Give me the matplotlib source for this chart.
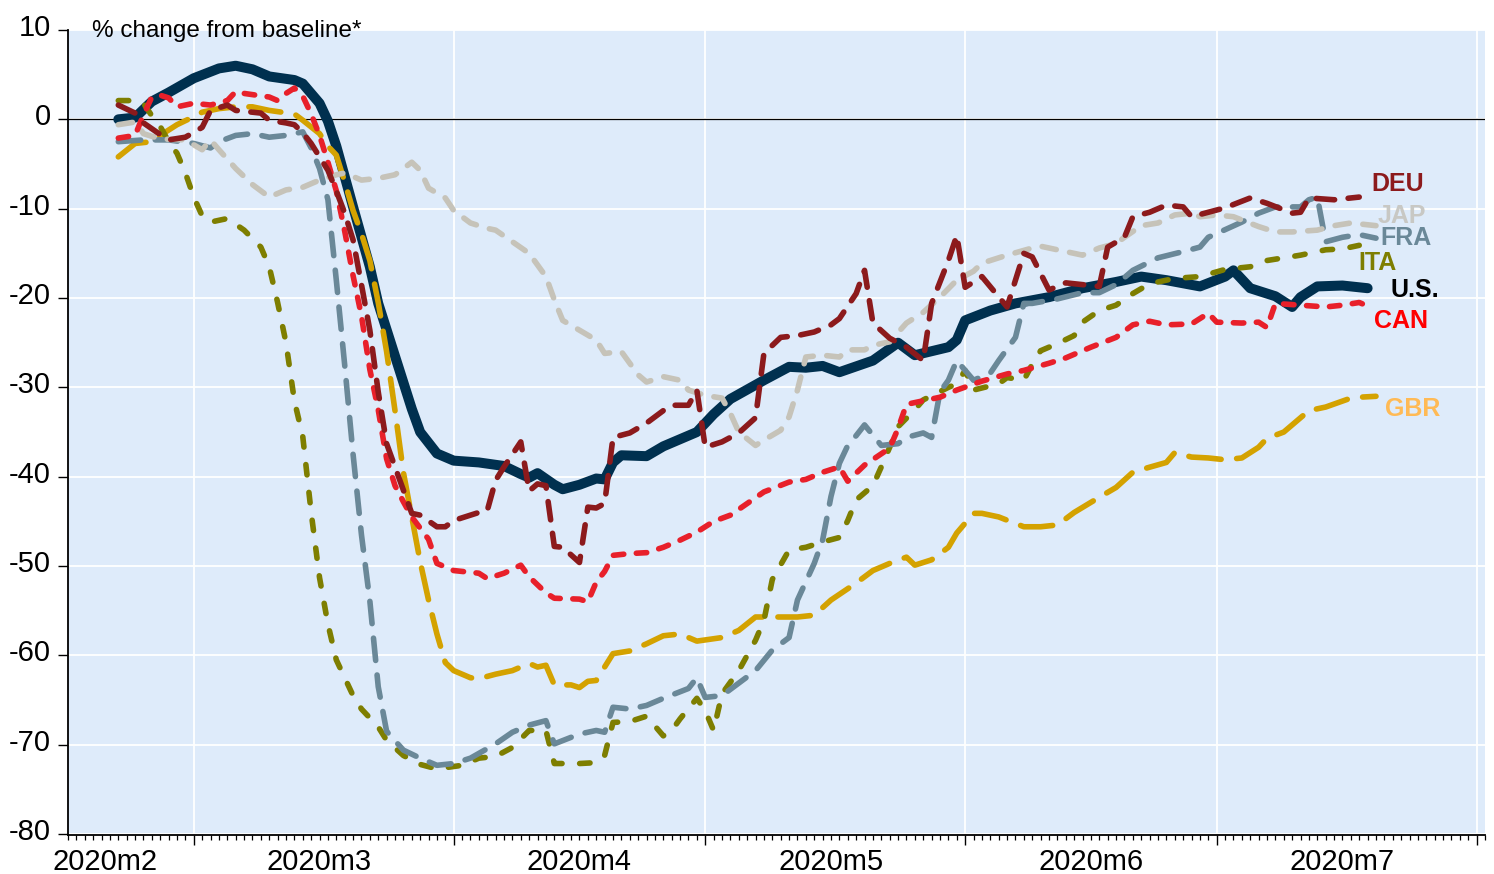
import numpy as np
import matplotlib
matplotlib.use("Agg")
import matplotlib.pyplot as plt
import matplotlib.dates as mdates
from matplotlib.transforms import ScaledTranslation, blended_transform_factory

plt.rcParams['font.family'] = ['Liberation Sans', 'DejaVu Sans']
plt.rcParams['axes.unicode_minus'] = False
plt.rcParams['lines.scale_dashes'] = False

# ---------------- data (day offsets from 2020-03-01, % change) ----------------
BASE = np.datetime64('2020-03-01')

us_days = [-9,-7,-5,-3,0,3,5,7,9,12,13,15,16,17,19,21,22,24,26,27,29,31,34,37,39,40,41,43,44,46,48,49,50,51,54,56,57,60,62,64,68,71,73,75,77,81,84,86,90,91,92,95,98,102,106,110,113,116,120,123,124,126,129,131,132,134,137,140]
us_vals = [0.0,0.2,2.0,3.0,4.6,5.7,6.0,5.6,4.8,4.4,4.0,1.8,-0.2,-3.0,-9.8,-16.5,-20.6,-26.5,-32.4,-35.0,-37.4,-38.2,-38.4,-38.8,-39.7,-40.1,-39.6,-40.9,-41.4,-40.9,-40.2,-40.3,-38.4,-37.6,-37.7,-36.6,-36.2,-35.0,-33.0,-31.3,-29.2,-27.7,-27.8,-27.6,-28.3,-27.0,-25.0,-26.4,-25.5,-24.7,-22.5,-21.4,-20.6,-19.9,-18.9,-18.2,-17.6,-18.0,-18.7,-17.6,-16.9,-18.9,-19.8,-21.0,-19.9,-18.7,-18.6,-18.9]

deu_days = [-9,-7,-6,-4,-3,-1,1,2,4,5,8,9,11,12,13,14,15,16,17,18,19,20,21,22,23,25,26,27,29,30,31,34,35,36,37,39,40,41,42,43,44,46,47,48,49,50,52,54,56,57,59,60,61,63,65,67,68,70,72,74,76,77,79,80,81,83,85,87,88,90,91,92,94,97,99,100,102,104,108,109,111,112,114,116,118,119,121,123,126,128,131,132,133,136,139]
deu_vals = [1.6,0.7,-0.4,-1.7,-2.3,-2.0,-0.9,1.0,1.6,1.0,0.7,-0.1,-0.4,-0.6,-1.5,-2.7,-4.2,-5.7,-8.0,-10.5,-13.5,-18.5,-23.6,-30.5,-36.3,-41.5,-44.1,-44.3,-45.6,-45.6,-44.9,-44.0,-43.8,-40.4,-38.9,-36.1,-41.6,-40.8,-41.0,-47.8,-47.9,-49.6,-43.4,-43.5,-43.0,-35.6,-35.1,-34.0,-32.6,-32.0,-32.0,-30.3,-36.7,-36.1,-35.1,-33.4,-26.2,-24.4,-24.2,-23.8,-23.0,-22.3,-19.5,-16.9,-22.8,-24.5,-25.5,-27.0,-20.6,-15.8,-13.0,-18.8,-17.6,-21.0,-15.0,-15.4,-19.1,-18.3,-18.7,-14.3,-13.2,-10.9,-10.4,-9.6,-9.8,-10.9,-10.4,-9.9,-8.8,-9.4,-10.5,-10.4,-8.8,-9.0,-8.7]

jap_days = [-9,-7,-6,-4,-1,1,2,3,5,7,9,11,13,15,17,18,20,22,24,26,27,28,30,31,33,35,36,38,40,42,43,44,46,48,49,51,52,53,54,56,58,59,61,63,64,65,67,68,70,71,72,73,75,77,78,80,81,83,85,87,89,91,93,94,97,100,101,103,106,108,110,111,113,115,117,119,120,122,124,127,129,131,134,136,138,141]
jap_vals = [-0.6,-0.3,-1.6,-2.2,-2.3,-3.4,-2.3,-3.4,-5.5,-7.3,-8.7,-7.9,-7.6,-6.8,-6.2,-6.0,-6.8,-6.6,-6.2,-4.8,-5.7,-7.7,-8.8,-10.2,-11.6,-12.2,-12.4,-13.7,-15.0,-17.6,-20.2,-22.5,-23.6,-24.7,-26.2,-26.0,-27.3,-28.6,-29.4,-28.8,-29.2,-30.3,-30.9,-31.2,-32.9,-35.0,-36.5,-35.9,-34.8,-33.3,-30.3,-26.6,-26.4,-26.6,-25.8,-25.8,-25.3,-24.9,-22.8,-21.6,-19.9,-18.0,-17.0,-16.1,-15.2,-14.4,-14.2,-14.6,-15.2,-14.4,-13.9,-13.2,-11.9,-11.6,-10.7,-10.5,-10.9,-10.7,-10.9,-12.0,-12.6,-12.6,-12.4,-11.9,-11.6,-11.9]

fra_days = [-9,-6,-3,0,2,3,5,7,9,11,13,14,15,16,17,18,19,20,21,22,23,25,27,29,31,33,36,38,40,42,43,46,48,49,50,52,54,56,59,60,61,63,67,69,71,72,74,75,76,77,78,79,80,82,84,85,87,88,89,90,91,93,95,96,98,99,100,103,106,108,110,112,115,118,120,121,125,127,129,132,133,134,135,137,139,141]
fra_vals = [-2.5,-2.3,-2.3,-2.7,-3.2,-2.5,-1.8,-1.6,-2.0,-1.8,-1.4,-3.2,-5.5,-9.0,-18.0,-27.5,-37.5,-46.5,-53.9,-63.5,-68.5,-70.6,-71.5,-72.3,-72.1,-71.5,-69.9,-68.6,-67.8,-67.3,-69.9,-68.8,-68.4,-68.6,-65.8,-66.0,-65.6,-64.8,-63.7,-62.5,-64.7,-64.5,-61.7,-59.4,-58.0,-53.8,-49.7,-47.1,-42.2,-38.5,-36.5,-35.4,-34.2,-36.5,-36.3,-35.6,-35.1,-35.6,-30.5,-29.2,-27.0,-29.2,-28.4,-27.0,-24.4,-20.6,-20.6,-20.1,-19.4,-19.4,-18.5,-16.9,-15.5,-14.8,-14.3,-13.2,-11.5,-10.5,-9.8,-9.8,-9.0,-8.7,-13.7,-13.2,-12.9,-13.3]

ita_days = [-9,-7,-6,-5,-4,-3,-2,-1,0,1,2,4,6,8,9,10,11,12,13,14,15,16,17,19,20,22,23,25,27,29,32,34,36,38,40,42,43,46,48,49,50,52,54,56,57,58,60,61,62,63,65,67,68,69,71,73,75,77,78,79,81,82,83,84,86,87,90,91,92,93,96,97,99,100,101,103,105,106,108,110,112,114,117,120,123,126,128,130,132,135,137,139]
ita_vals = [2.1,2.1,1.8,0.4,-0.8,-2.5,-3.8,-6.0,-8.7,-10.8,-11.5,-11.1,-12.4,-14.3,-16.5,-20.5,-25.0,-31.5,-35.5,-44.0,-51.3,-56.5,-60.5,-64.5,-66.0,-68.0,-69.5,-71.2,-72.2,-72.7,-72.3,-71.5,-71.3,-70.3,-68.4,-68.4,-72.1,-72.1,-72.0,-71.2,-67.5,-67.4,-66.8,-69.0,-68.4,-67.1,-64.8,-66.2,-68.4,-64.3,-61.7,-58.3,-56.1,-51.5,-48.2,-47.9,-47.3,-46.8,-44.9,-42.6,-41.0,-38.9,-36.7,-34.4,-32.5,-31.4,-30.0,-29.6,-28.1,-30.3,-29.6,-28.9,-29.2,-27.4,-25.9,-25.1,-24.2,-22.7,-21.4,-20.8,-19.5,-18.4,-17.8,-17.6,-16.8,-16.5,-15.8,-15.5,-15.2,-14.6,-14.5,-14.1]

can_days = [-9,-7,-6,-5,-4,-3,-2,0,2,4,5,6,9,10,11,12,13,14,15,16,17,18,19,20,21,22,23,24,25,26,28,29,31,34,35,37,39,40,42,43,46,47,48,49,50,52,54,56,58,60,62,64,66,68,71,73,75,77,78,80,83,84,85,87,89,91,94,97,99,102,104,107,110,112,114,116,119,121,122,125,127,128,129,132,135,137,139,140]
can_vals = [-2.1,-1.8,0.5,2.5,2.7,2.4,1.4,1.8,1.6,2.1,3.1,2.9,2.5,2.1,2.9,3.5,2.6,0.6,-1.8,-4.8,-8.0,-12.5,-17.5,-22.0,-28.0,-32.5,-38.0,-41.0,-42.8,-44.5,-47.0,-49.7,-50.5,-50.8,-51.4,-50.8,-49.9,-51.2,-53.0,-53.6,-53.7,-54.0,-51.8,-50.6,-48.8,-48.6,-48.5,-47.9,-47.1,-46.2,-45.0,-44.3,-43.0,-41.7,-40.6,-40.3,-39.5,-38.9,-40.5,-38.7,-36.8,-34.6,-31.9,-31.5,-31.1,-30.3,-29.3,-28.5,-28.1,-27.3,-26.7,-25.5,-24.4,-23.0,-22.6,-23.0,-22.9,-21.7,-22.7,-22.8,-22.7,-23.3,-20.6,-20.8,-21.0,-20.8,-20.5,-20.9]

gbr_days = [-9,-7,-5,-4,-2,0,1,3,5,7,9,12,13,15,16,17,18,19,20,21,22,23,24,25,26,27,28,29,30,31,33,34,36,38,40,41,42,43,45,46,47,48,50,52,54,56,58,60,63,65,67,69,72,74,76,79,81,83,85,86,88,90,91,93,94,96,99,101,103,105,108,110,112,113,116,117,119,121,123,125,127,128,130,133,135,138,139,141]
gbr_vals = [-4.2,-2.7,-2.5,-1.8,-0.6,0.3,0.8,1.2,1.4,1.4,1.0,0.6,-0.1,-1.6,-3.0,-4.0,-7.0,-10.2,-12.8,-15.8,-20.5,-26.0,-32.6,-39.5,-44.5,-49.5,-53.8,-57.6,-60.8,-61.7,-62.5,-62.6,-62.1,-61.7,-60.9,-61.3,-61.1,-63.3,-63.3,-63.6,-62.9,-62.8,-59.8,-59.5,-58.7,-57.8,-57.6,-58.4,-58.0,-57.2,-55.7,-55.7,-55.7,-55.5,-53.8,-51.9,-50.5,-49.7,-49.0,-49.9,-49.3,-47.9,-46.3,-44.1,-44.1,-44.5,-45.6,-45.6,-45.4,-44.0,-42.3,-41.2,-39.5,-39.2,-38.4,-37.3,-37.8,-37.9,-38.1,-37.9,-36.7,-35.7,-35.0,-32.6,-32.2,-31.2,-31.1,-31.0]

month_labels = ['2020m2', '2020m3', '2020m4', '2020m5', '2020m6', '2020m7']
month_label_days = [-10.6, 15, 46, 76, 107, 137]
yticks = [10, 0, -10, -20, -30, -40, -50, -60, -70, -80]

# ---------------- figure ----------------
W, H = 1494, 874
fig = plt.figure(figsize=(W / 100, H / 100), dpi=100)
ax = fig.add_axes([68 / W, 1 - 835 / H, (1485 - 68) / W, (835 - 30) / H])
ax.set_facecolor('#DEEBFA')

def dates(days):
    return BASE + np.array(days).astype('timedelta64[D]')

px = 0.72  # points per pixel
LWPX = 5.6
def dash(vis, gap, lw_px=LWPX):
    return (0, ((vis - lw_px) * px, (gap + lw_px) * px))

LW = LWPX * px
series = [
    ('US',  us_days,  us_vals,  '#00304F', 10 * px, None),
    ('GBR', gbr_days, gbr_vals, '#D4A200', LW, dash(38, 10)),
    ('ITA', ita_days, ita_vals, '#7E7E00', LW, dash(16, 12)),
    ('FRA', fra_days, fra_vals, '#6A8898', LW, dash(28, 9)),
    ('JAP', jap_days, jap_vals, '#C6C3B9', LW, dash(20, 8)),
    ('CAN', can_days, can_vals, '#E8202A', LW, dash(16, 7)),
    ('DEU', deu_days, deu_vals, '#8C1A1C', LW, dash(24, 8)),
]
for i, (name, d, v, c, lw, ls) in enumerate(series):
    kw = dict(color=c, lw=lw, solid_capstyle='round', dash_capstyle='round',
              solid_joinstyle='round', dash_joinstyle='round', zorder=3 + i * 0.1)
    if ls is not None:
        kw['linestyle'] = ls
    ax.plot(dates(d), v, **kw)

ax.axhline(0, color='black', lw=0.9, zorder=2.5)

ax.set_xlim(np.datetime64('2020-02-15'), np.datetime64('2020-08-02'))
ax.set_ylim(-80.1, 10)

ax.xaxis.set_major_locator(mdates.MonthLocator())
ax.xaxis.set_minor_locator(mdates.DayLocator())
ax.xaxis.set_major_formatter(plt.NullFormatter())
ax.tick_params(axis='x', which='major', direction='out', length=7.5, width=1.0, color='black')
ax.tick_params(axis='x', which='minor', direction='out', length=3.8, width=0.9, color='black')

ax.set_yticks(yticks)
ax.set_yticklabels([str(t) for t in yticks])
ax.tick_params(axis='y', direction='out', length=7.2, width=1.0, labelsize=21, pad=5)
for lab in ax.get_yticklabels():
    lab.set_transform(lab.get_transform() + ScaledTranslation(0, 5 / 100, fig.dpi_scale_trans))

ax.grid(True, which='major', color='white', lw=1.3, zorder=1)
ax.set_axisbelow(True)

for s in ['top', 'right']:
    ax.spines[s].set_visible(False)
for s in ['left', 'bottom']:
    ax.spines[s].set_linewidth(1.3)
    ax.spines[s].set_color('black')

# month labels
base_num = mdates.date2num(BASE)
trans = blended_transform_factory(ax.transData, ax.transAxes) + \
    ScaledTranslation(0, -27 / 100, fig.dpi_scale_trans)
for lab, d in zip(month_labels, month_label_days):
    ax.text(base_num + d, 0, lab, transform=trans, ha='center', va='center',
            fontsize=21, clip_on=False)

# axis caption
fig.text(92 / W, 1 - 31 / H, '% change from baseline*', fontsize=17.5,
         ha='left', va='center')

# series labels
labels = [
    ('DEU', 1398, 184, '#8C1A1C'),
    ('JAP', 1402, 216, '#C8C8C4'),
    ('FRA', 1406, 238, '#6A8898'),
    ('ITA', 1378, 263, '#7E7E00'),
    ('U.S.', 1415, 290, '#000000'),
    ('CAN', 1401, 321, '#FF0000'),
    ('GBR', 1413, 409, '#FFBA55'),
]
for t, x, y, c in labels:
    fig.text(x / W, 1 - y / H, t, color=c, fontsize=18, fontweight='bold',
             ha='center', va='center')

fig.savefig('out.png', dpi=100)
